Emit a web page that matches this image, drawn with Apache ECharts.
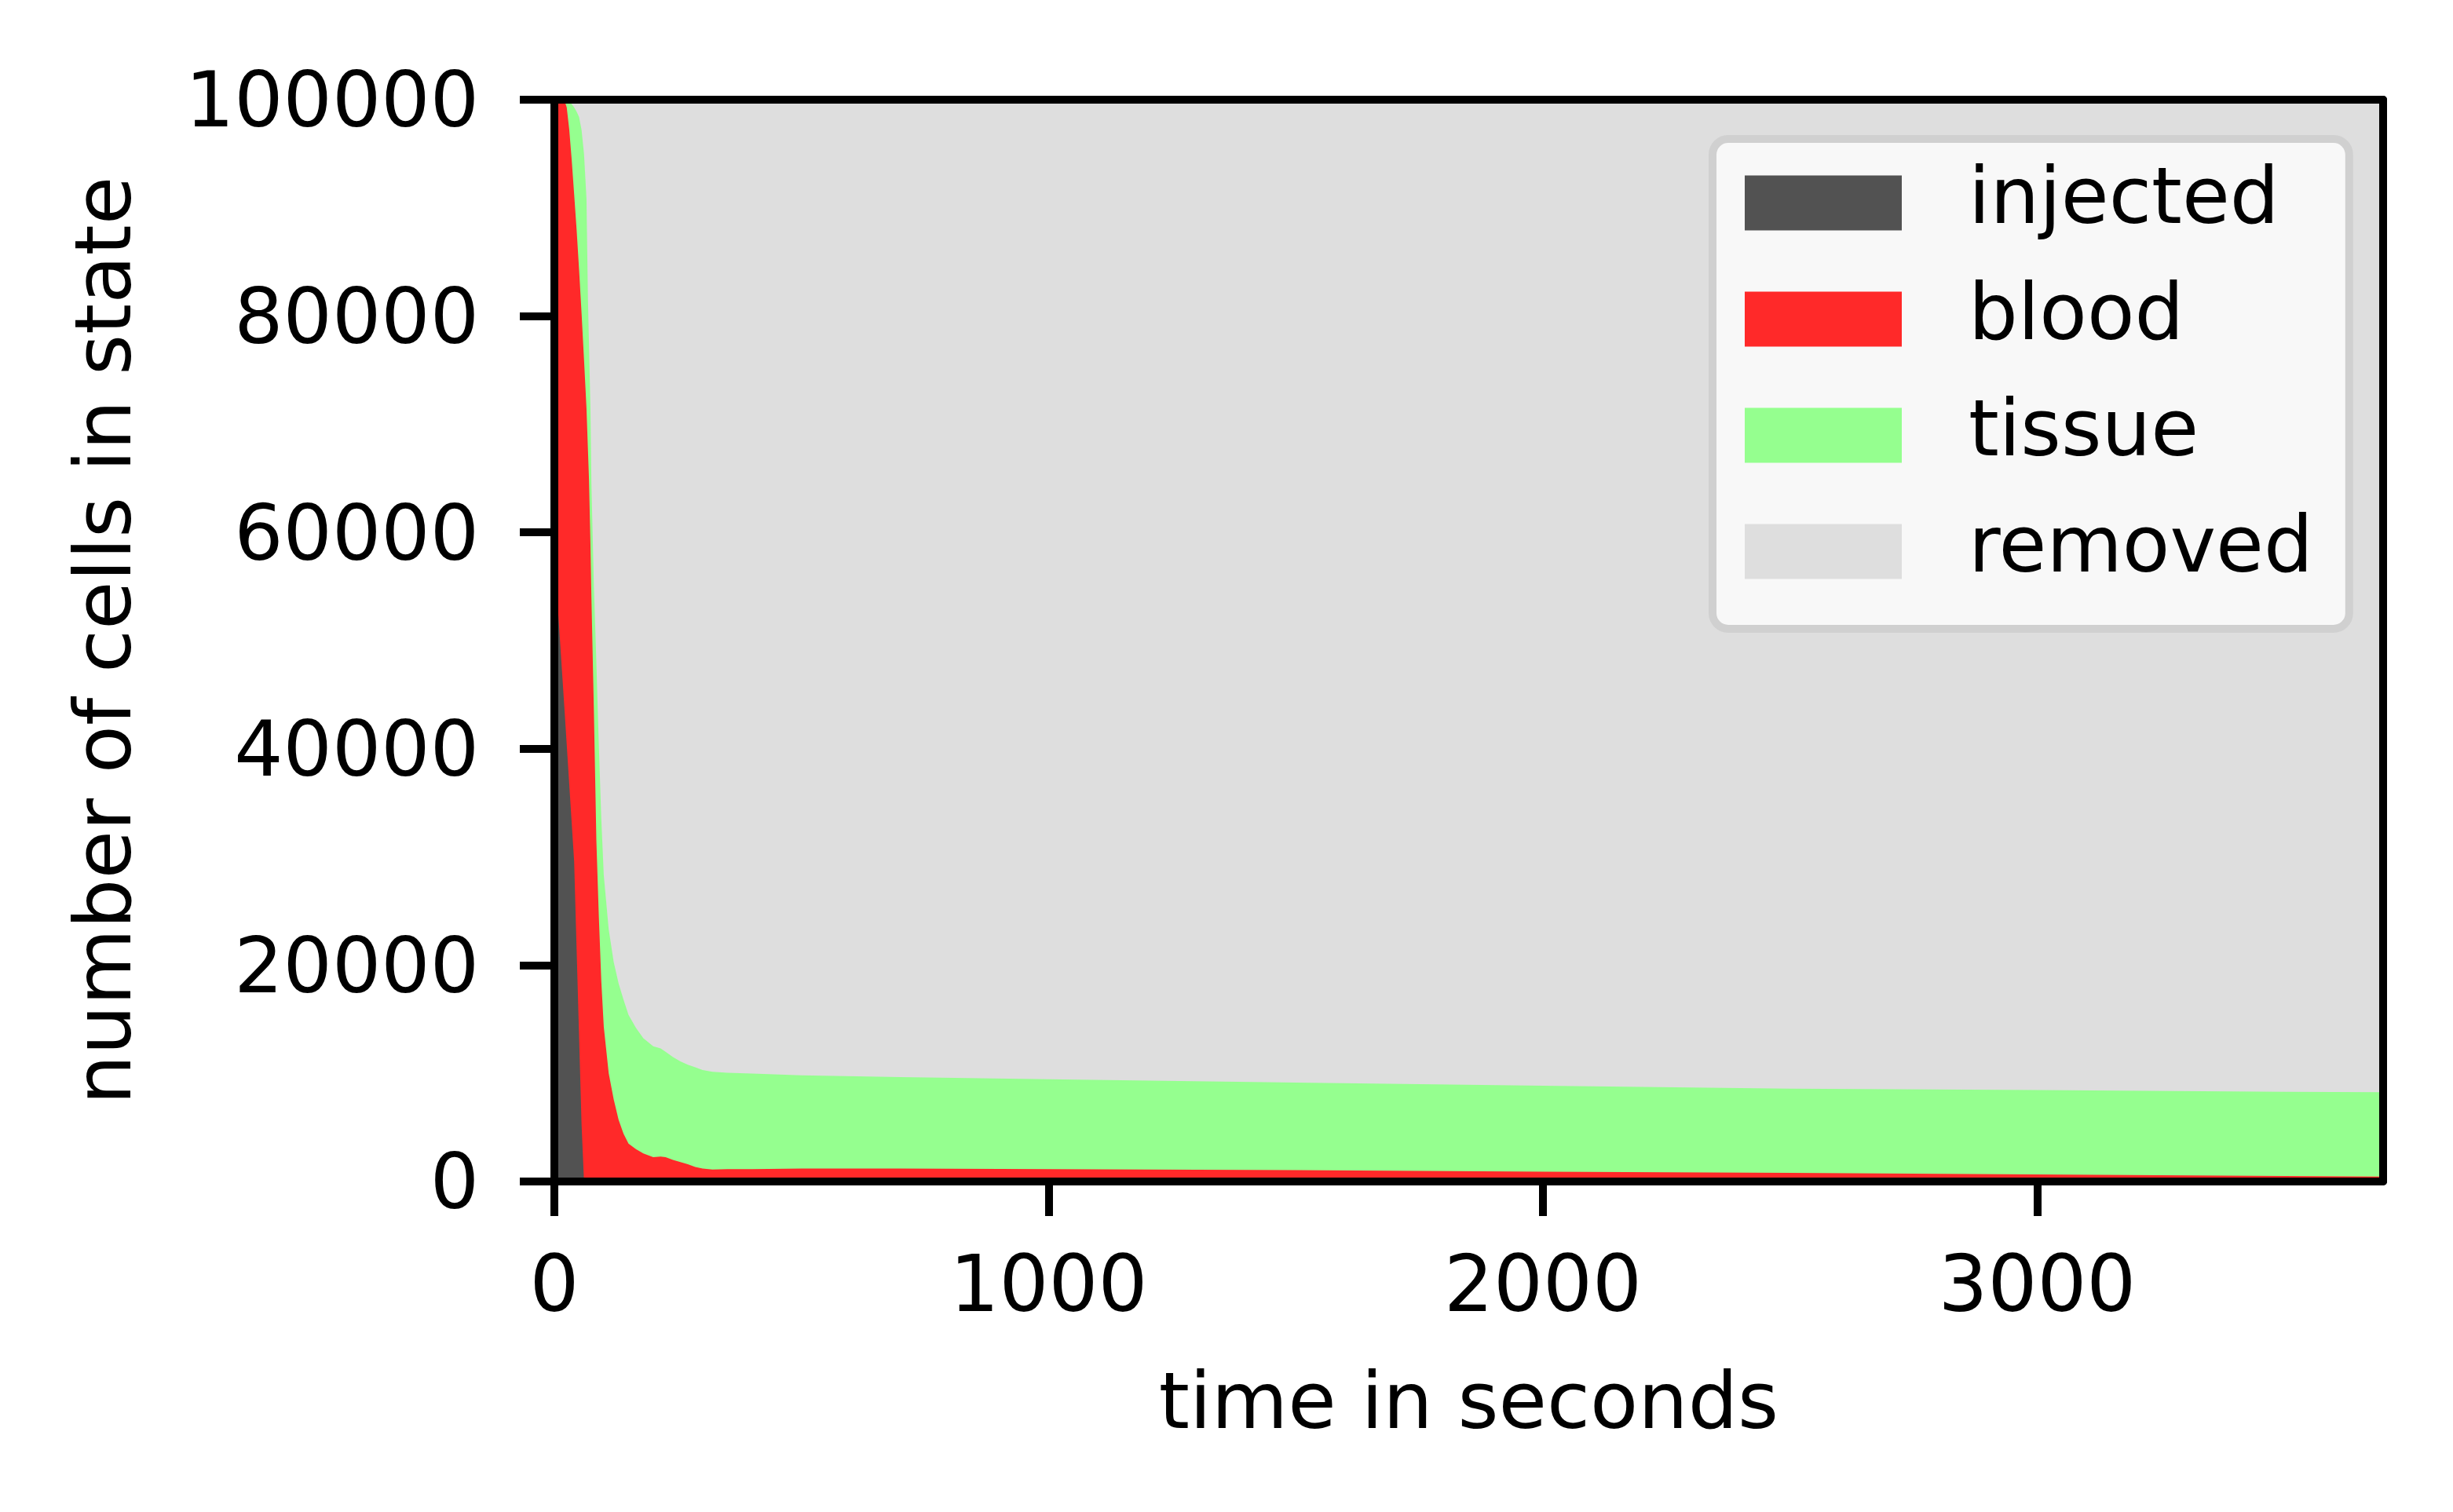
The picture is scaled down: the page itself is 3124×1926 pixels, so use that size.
<!DOCTYPE html>
<html>
<head>
<meta charset="utf-8">
<script src="https://cdn.jsdelivr.net/npm/echarts@6/dist/echarts.min.js"></script>
<style>
  html, body { margin: 0; padding: 0; background: #fff; }
  #main { width: 3124px; height: 1926px; }
</style>
</head>
<body>
<div id="main"></div>
<script>
// time in seconds
var time = [0, 10, 20, 25, 30, 35, 40, 45, 50, 55, 60, 65, 68, 70, 73, 75, 80, 85, 90, 95,
  100, 110, 120, 130, 140, 150, 165, 180, 200, 215, 225, 240, 255, 270, 285, 300,
  320, 350, 400, 500, 700, 1000, 1500, 2000, 2500, 3000, 3500, 3700]

// number of cells in each state
var injected = [58000, 51000, 44000, 40400, 36800, 33200, 29600, 21500, 13400, 5300,
  0, 0, 0, 0, 0, 0, 0, 0, 0, 0,
  0, 0, 0, 0, 0, 0, 0, 0, 0, 0, 0, 0, 0, 0, 0, 0,
  0, 0, 0, 0, 0, 0, 0, 0, 0, 0, 0, 0]
var blood = [42000, 49000, 56000, 58900, 60500, 61300, 61700, 66500, 70900, 75000,
  76000, 71500, 67600, 65000, 59000, 54000, 43500, 31500, 24500, 18500,
  14300, 10000, 7600, 5700, 4400, 3500, 3000, 2600, 2250, 2300, 2250, 2000, 1800, 1600, 1350, 1200,
  1100, 1150, 1150, 1200, 1200, 1150, 1050, 900, 800, 650, 500, 450]
var tissue = [0, 0, 0, 600, 2500, 5100, 8000, 10900, 14100, 16900,
  19000, 19350, 13900, 12500, 12500, 10500, 11500, 16500, 15800, 15000,
  14000, 13300, 12700, 12600, 12400, 11900, 11200, 10650, 10250, 10000, 9750, 9500, 9300, 9200, 9200, 9100,
  9050, 8900, 8830, 8620, 8450, 8300, 8100, 7950, 7780, 7800, 7800, 7800]
var removed = [0, 0, 0, 100, 200, 400, 700, 1100, 1600, 2800,
  5000, 9150, 18500, 22500, 28500, 35500, 45000, 52000, 59700, 66500,
  71700, 76700, 79700, 81700, 83200, 84600, 85800, 86750, 87500, 87700, 88000, 88500, 88900, 89200, 89450, 89700,
  89850, 89950, 90020, 90180, 90350, 90550, 90850, 91150, 91420, 91550, 91700, 91750]

var names = ['injected', 'blood', 'tissue', 'removed']
var colors = ['#525252', '#ff2929', '#95ff8f', '#dedede']
var xTicks = [0, 1000, 2000, 3000]

var font = 'DejaVu Sans'
var black = '#000000'

// stack the states by hand: each area is filled from 0 up to its running total,
// drawn from the top state down so the lower ones paint over it
var seriesVals = [injected, blood, tissue, removed]
var running = time.map(function () { return 0 })
var stacked = []
for (let i = 0; i < 4; i++) {
  running = running.map(function (v, j) { return v + seriesVals[i][j] })
  stacked.push(time.map(function (t, j) { return [t, running[j]] }))
}

var series = []
for (let i = 3; i >= 0; i--) {
  series.push({
    name: names[i],
    type: 'line',
    symbol: 'none',
    smooth: false,
    lineStyle: { width: 0 },
    itemStyle: { color: colors[i] },
    areaStyle: { color: colors[i], opacity: 1 },
    data: stacked[i]
  })
}

var spine = { show: true, onZero: false, lineStyle: { color: black, width: 10 } }
var plainNum = function (v) { return String(v) }
// y labels sit a little lower than echarts centres them
var lowNum = function (v) { return '{n|' + v + '}' }

var mychart = echarts.init(document.getElementById('main'))
var option = {
  animation: false,
  backgroundColor: '#ffffff',
  grid: { left: 706, right: 89, top: 127, bottom: 421 },
  legend: {
    orient: 'vertical',
    left: 2181,
    top: 177,
    icon: 'rect',
    itemWidth: 200,
    itemHeight: 70,
    itemGap: 49,
    padding: [32, 46, 49, 41],
    backgroundColor: '#f8f8f8',
    borderColor: '#d0d0d0',
    borderWidth: 10,
    borderRadius: 20,
    itemStyle: { borderWidth: 0 },
    textStyle: {
      fontFamily: font,
      fontSize: 99,
      color: black,
      padding: [0, 0, 0, 80]
    },
    data: names
  },
  xAxis: [{
    type: 'value',
    min: 0,
    max: 3700,
    interval: 1000,
    z: 10,
    name: 'time in seconds',
    nameLocation: 'middle',
    nameGap: 288,
    nameTextStyle: { fontFamily: font, fontSize: 100, color: black, verticalAlign: 'middle' },
    axisLine: spine,
    axisTick: { show: true, length: 44, customValues: xTicks, lineStyle: { color: black, width: 10 } },
    axisLabel: { customValues: xTicks, formatter: plainNum, margin: 90, fontFamily: font, fontSize: 99, color: black },
    splitLine: { show: false }
  }, {
    type: 'value',
    position: 'top',
    min: 0,
    max: 3700,
    z: 10,
    axisLine: spine,
    axisTick: { show: false },
    axisLabel: { show: false },
    splitLine: { show: false }
  }],
  yAxis: [{
    type: 'value',
    min: 0,
    max: 100000,
    interval: 20000,
    z: 10,
    name: 'number of cells in state',
    nameLocation: 'middle',
    nameGap: 566,
    nameTextStyle: { fontFamily: font, fontSize: 100, color: black, verticalAlign: 'middle' },
    axisLine: spine,
    axisTick: { show: true, length: 44, lineStyle: { color: black, width: 10 } },
    axisLabel: {
      formatter: lowNum,
      margin: 96,
      fontFamily: font,
      fontSize: 98,
      color: black,
      rich: { n: { fontFamily: font, fontSize: 98, color: black, padding: [18, 0, 0, 0] } }
    },
    splitLine: { show: false }
  }, {
    type: 'value',
    position: 'right',
    min: 0,
    max: 100000,
    z: 10,
    axisLine: spine,
    axisTick: { show: false },
    axisLabel: { show: false },
    splitLine: { show: false }
  }],
  series: series
}
mychart.setOption(option)
</script>
</body>
</html>
